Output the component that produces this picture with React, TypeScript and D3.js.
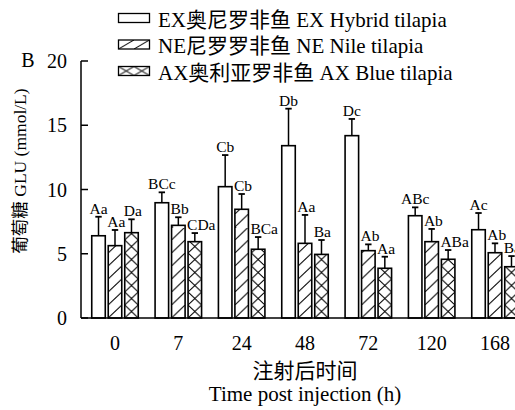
import React from "react";
import * as d3 from "d3";

const categories = ["0", "7", "24", "48", "72", "120", "168"];
const seriesKeys = ["EX", "NE", "AX"];
const seriesNames = [
  "EX奥尼罗非鱼 EX Hybrid tilapia",
  "NE尼罗罗非鱼 NE Nile tilapia",
  "AX奥利亚罗非鱼 AX Blue tilapia",
];
const exMean = [6.4, 8.97, 10.22, 13.41, 14.19, 7.96, 6.87];
const exErr = [7.88, 9.78, 12.68, 16.29, 15.49, 8.61, 8.17];
const neMean = [5.63, 7.21, 8.46, 5.81, 5.24, 5.94, 5.08];
const neErr = [6.85, 7.84, 9.65, 8.02, 5.73, 6.93, 5.81];
const axMean = [6.64, 5.94, 5.35, 4.95, 3.87, 4.57, 3.99];
const axErr = [7.68, 6.61, 6.3, 6.07, 4.77, 5.29, 4.82];
const exLabels = ["Aa", "BCc", "Cb", "Db", "Dc", "ABc", "Ac"];
const neLabels = ["Aa", "Bb", "Cb", "Aa", "Ab", "Ab", "Ab"];
const axLabels = ["Da", "CDa", "BCa", "Ba", "Aa", "ABa", "Ba"];
const yTicks = [0, 5, 10, 15, 20];

const means = [exMean, neMean, axMean];
const errs = [exErr, neErr, axErr];
const labels = [exLabels, neLabels, axLabels];

const FONT = "'Liberation Serif','Times New Roman','Noto Sans CJK SC',serif";

export default function App() {
  const W = 515, H = 410;
  const y = d3.scaleLinear().domain([0, 20]).range([318, 61]);
  const x0 = d3.scaleBand().domain(categories).range([83.33, 526.67]).padding(0);
  const x1 = d3.scaleBand().domain(seriesKeys).range([-23.25, 23.25]).paddingInner(0.18).paddingOuter(0);
  const bw = x1.bandwidth();
  const axisX = 81;
  const base = y(0);

  const bars: any[] = [];
  const defs: any[] = [];
  categories.forEach((c, i) => {
    const gc = (x0(c) as number) + x0.bandwidth() / 2;
    seriesKeys.forEach((s, k) => {
      const bx = gc + (x1(s) as number);
      const top = y(means[k][i]);
      const et = y(errs[k][i]);
      const cx = bx + bw / 2;
      let fill = "#fff";
      if (k > 0) {
        const id = `p-${k}-${i}`;
        defs.push(
          <pattern key={id} id={id} patternUnits="userSpaceOnUse" x={bx} y={base} width={bw} height={13}>
            <rect width={bw} height={13} fill="#fff" />
            <line x1={0} y1={13} x2={bw} y2={0} stroke="#000" strokeWidth={1} />
            {k === 2 && <line x1={0} y1={0} x2={bw} y2={13} stroke="#000" strokeWidth={1} />}
          </pattern>
        );
        fill = `url(#${id})`;
      }
      bars.push(
        <g key={`${s}-${c}`}>
          <line x1={cx} x2={cx} y1={top} y2={et} stroke="#000" strokeWidth={1.5} />
          <line x1={cx - 3.2} x2={cx + 3.2} y1={et} y2={et} stroke="#000" strokeWidth={1.8} />
          <rect x={bx} y={top} width={bw} height={base - top} fill={fill} stroke="#000" strokeWidth={1.6} />
          <text
            x={k === 0 ? cx : bx - 1}
            y={et - 3}
            textAnchor={k === 0 ? "middle" : "start"}
            fontSize={15.5}
            fontFamily={FONT}
          >
            {labels[k][i]}
          </text>
        </g>
      );
    });
  });

  const legX = 118.5, legW = 31, legH = 9;
  const legBase = [26.5, 53, 79.5];

  return (
    <svg width={W} height={H} style={{ position: "absolute", left: 0, top: 0, background: "#fff" }}>
      <defs>
        {defs}
        {[1, 2].map((k) => (
          <pattern key={`lp${k}`} id={`lp${k}`} patternUnits="userSpaceOnUse" x={legX} y={legBase[k] - 13} width={legW / 2} height={legH}>
            <rect width={legW / 2} height={legH} fill="#fff" />
            <line x1={0} y1={legH} x2={legW / 2} y2={0} stroke="#000" strokeWidth={1} />
            {k === 2 && <line x1={0} y1={0} x2={legW / 2} y2={legH} stroke="#000" strokeWidth={1} />}
          </pattern>
        ))}
      </defs>
      <rect width={W} height={H} fill="#fff" />
      {bars}
      {/* axes */}
      <line x1={axisX} x2={axisX} y1={y(20)} y2={base} stroke="#000" strokeWidth={1.5} />
      <line x1={axisX} x2={W} y1={base} y2={base} stroke="#000" strokeWidth={1.5} />
      {yTicks.map((t) => (
        <g key={t}>
          <line x1={axisX} x2={axisX + 7} y1={y(t)} y2={y(t)} stroke="#000" strokeWidth={1.5} />
          <text x={67} y={y(t) + 7} textAnchor="end" fontSize={20} fontFamily={FONT}>
            {t}
          </text>
        </g>
      ))}
      {categories.map((c) => (
        <text key={c} x={(x0(c) as number) + x0.bandwidth() / 2} y={350} textAnchor="middle" fontSize={20} fontFamily={FONT}>
          {c}
        </text>
      ))}
      <text x={28} y={67} textAnchor="middle" fontSize={20} fontFamily={FONT}>B</text>
      <text x={305} y={378} textAnchor="middle" fontSize={21} fontFamily={FONT}>注射后时间</text>
      <text x={305} y={400.5} textAnchor="middle" fontSize={21} fontFamily={FONT}>Time post injection (h)</text>
      <text
        transform="translate(26,171) rotate(-90)"
        textAnchor="middle"
        fontSize={17.5}
        fontFamily={FONT}
      >
        葡萄糖 GLU (mmol/L)
      </text>
      {/* legend */}
      {seriesNames.map((n, k) => (
        <g key={n}>
          <rect
            x={legX}
            y={legBase[k] - 13}
            width={legW}
            height={legH}
            fill={k === 0 ? "#fff" : `url(#lp${k})`}
            stroke="#000"
            strokeWidth={1.3}
          />
          <text x={158} y={legBase[k]} fontSize={21} fontFamily={FONT}>
            {n}
          </text>
        </g>
      ))}
    </svg>
  );
}
